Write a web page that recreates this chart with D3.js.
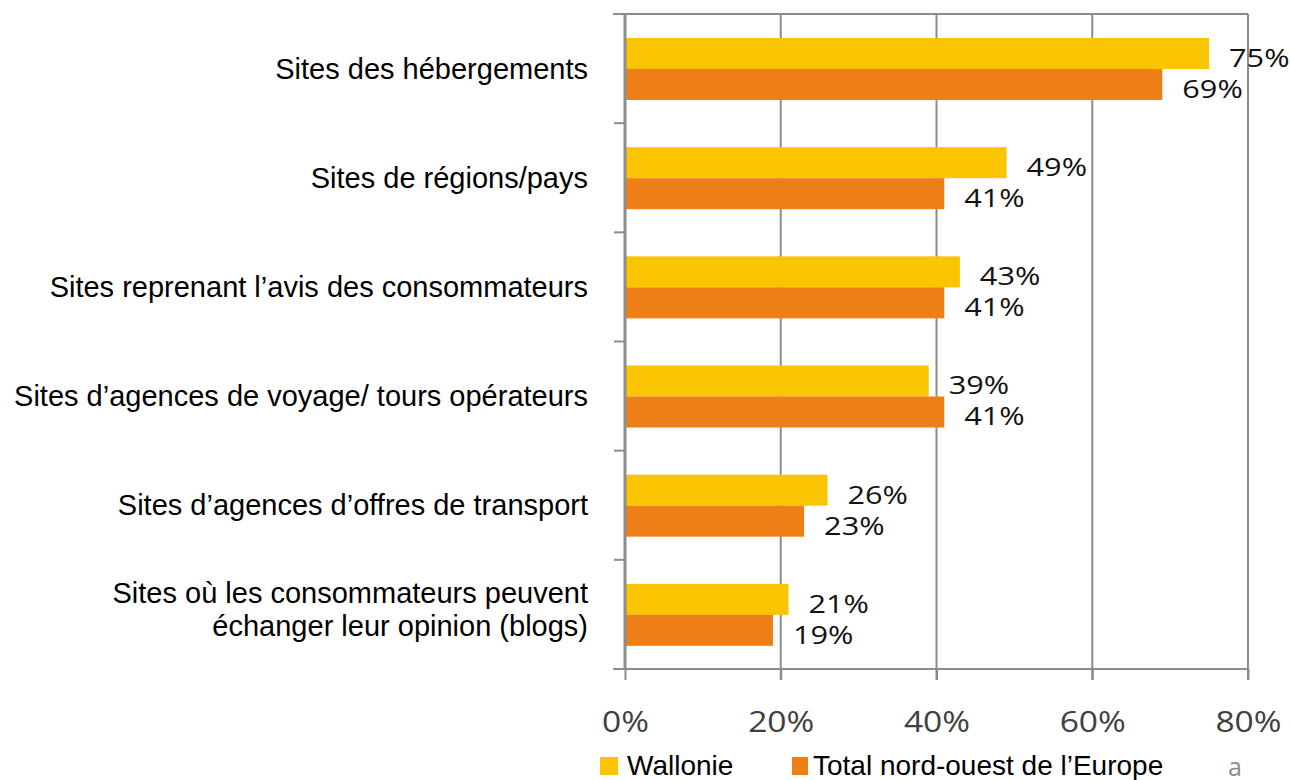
<!DOCTYPE html>
<html>
<head>
<meta charset="utf-8">
<script src="https://cdn.jsdelivr.net/npm/d3@7"></script>
<style>
  body { margin: 0; background: #fff; }
  svg { display: block; }
</style>
</head>
<body>
<div id="chart"></div>
<script>
// Data
const categories = [
    "Sites des hébergements",
    "Sites de régions/pays",
    "Sites reprenant l’avis des consommateurs",
    "Sites d’agences de voyage/ tours opérateurs",
    "Sites d’agences d’offres de transport",
    "Sites où les consommateurs peuvent|échanger leur opinion (blogs)"
];
const wallonie = [75, 49, 43, 39, 26, 21];
const totalNO = [69, 41, 41, 41, 23, 19];
const seriesNames = ["Wallonie", "Total nord-ouest de l’Europe"];
const xTicks = [0, 20, 40, 60, 80];

const width = 1290, height = 780;
const colors = ["#fbc400", "#ee7f16"];
const gridColor = "#8c8c8c";

const svg = d3.select("#chart").append("svg")
    .attr("width", width)
    .attr("height", height);

const x = d3.scaleLinear().domain([0, 80]).range([625, 1248]);
const y = d3.scaleBand().domain(d3.range(categories.length)).range([14, 669]);
const inner = d3.scaleBand().domain([0, 1]).range([24, 24 + 62]);

// vertical grid lines
svg.append("g").selectAll("line")
    .data(xTicks.slice(1))
    .join("line")
    .attr("x1", d => x(d)).attr("x2", d => x(d))
    .attr("y1", 14).attr("y2", 680)
    .attr("stroke", gridColor).attr("stroke-width", 2);

// top border
svg.append("line")
    .attr("x1", 613).attr("x2", x(80))
    .attr("y1", 14).attr("y2", 14)
    .attr("stroke", gridColor).attr("stroke-width", 2);

// bottom axis
const xAxis = svg.append("g")
    .attr("transform", "translate(0,669)")
    .call(d3.axisBottom(x).tickValues(xTicks).tickSize(11).tickFormat(d => d + "%"));
xAxis.select(".domain").attr("stroke", gridColor).attr("stroke-width", 2)
    .attr("d", `M613,0H${x(80)}`);
xAxis.selectAll(".tick line").attr("stroke", gridColor).attr("stroke-width", 2);
xAxis.selectAll(".tick text")
    .attr("y", 0)
    .attr("dy", 0)
    .attr("transform", "translate(0,63) scale(1.12,1)")
    .attr("fill", "#404040")
    .style("font-family", "'Open Sans', sans-serif")
    .style("font-size", "30px");

// bars
const groups = svg.append("g").selectAll("g")
    .data(categories.map((c, i) => [wallonie[i], totalNO[i]]))
    .join("g")
    .attr("transform", (d, i) => `translate(0,${y(i)})`);

groups.selectAll("rect")
    .data(d => d)
    .join("rect")
    .attr("x", x(0))
    .attr("y", (d, j) => inner(j))
    .attr("width", d => x(d) - x(0))
    .attr("height", inner.bandwidth())
    .attr("fill", (d, j) => colors[j]);

groups.selectAll("text.val")
    .data(d => d)
    .join("text")
    .attr("class", "val")
    .attr("transform", (d, j) =>
        `translate(${x(d) + 20},${inner(j) + inner.bandwidth() / 2 + 4}) scale(1.18,1)`)
    .attr("dy", "0.36em")
    .attr("fill", "#111")
    .style("font-family", "'Open Sans', sans-serif")
    .style("font-size", "26px")
    .text(d => d + "%");

// left axis
const yAxis = svg.append("g").attr("transform", `translate(${x(0)},0)`);
yAxis.append("line")
    .attr("y1", 14).attr("y2", 669)
    .attr("stroke", gridColor).attr("stroke-width", 3);
yAxis.selectAll("line.tick")
    .data(d3.range(categories.length + 1))
    .join("line")
    .attr("class", "tick")
    .attr("x1", -11).attr("x2", 0)
    .attr("y1", i => i < categories.length ? y(i) : 669)
    .attr("y2", i => i < categories.length ? y(i) : 669)
    .attr("stroke", gridColor).attr("stroke-width", 2);

// category labels
svg.append("g").selectAll("text")
    .data(categories)
    .join("text")
    .attr("text-anchor", "end")
    .attr("fill", "#000")
    .style("font-family", "'Liberation Sans', Arial, sans-serif")
    .style("font-size", "29px")
    .each(function (d, i) {
        const lines = d.split("|");
        const cy = y(i) + y.bandwidth() / 2;
        const lh = 33;
        const shift = lines.length > 1 ? -5 : 0;
        lines.forEach((t, k) => {
            d3.select(this).append("tspan")
                .attr("x", 588)
                .attr("y", cy + shift + (k - (lines.length - 1) / 2) * lh)
                .attr("dy", "0.35em")
                .text(t);
        });
    });

// legend
const legend = svg.append("g").attr("transform", "translate(0,775)");
const legendX = [600, 792];
seriesNames.forEach((name, i) => {
    legend.append("rect")
        .attr("x", legendX[i]).attr("y", -18)
        .attr("width", i === 0 ? 18 : 16).attr("height", 18)
        .attr("fill", colors[i]);
    legend.append("text")
        .attr("x", legendX[i] + (i === 0 ? 27 : 21))
        .attr("y", 0)
        .style("font-family", "'Liberation Sans', Arial, sans-serif")
        .style("font-size", "28px")
        .text(name);
});
svg.append("text")
    .attr("x", 1228).attr("y", 776)
    .attr("fill", "#8c8c8c")
    .style("font-family", "'Open Sans', sans-serif")
    .style("font-size", "25px")
    .text("a");
</script>
</body>
</html>
